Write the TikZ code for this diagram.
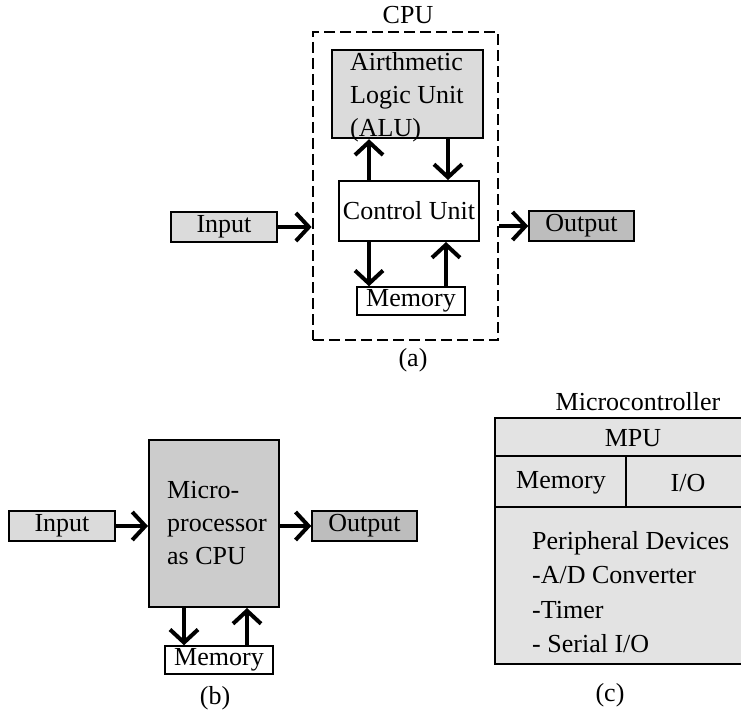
\documentclass[tikz,border=0pt]{standalone}
\usepackage{fontspec}
\setmainfont{Liberation Serif}
\usetikzlibrary{arrows.meta}
\definecolor{lightbox}{gray}{0.86}
\definecolor{midbox}{gray}{0.80}
\definecolor{darkbox}{gray}{0.74}
\definecolor{mcbox}{gray}{0.89}
\begin{document}
\begin{tikzpicture}[x=1pt,y=-1pt,
  box/.style={draw, line width=1.5pt, inner sep=0pt, font=\fontsize{26}{33}\selectfont},
  txt/.style={inner sep=0pt, font=\fontsize{26}{33}\selectfont},
  arr/.style={line width=4pt, -{Straight Barb[length=13pt,width=28pt]}}]
\useasboundingbox (0,0) rectangle (741,711);

% ---------- (a) ----------
\node[draw, line width=2.8pt, dash pattern=on 11pt off 5pt, minimum width=185pt, minimum height=308pt, inner sep=0pt] (cpu) at (405.5,186) {};
\node[txt] (cpulbl) at (408,15) {CPU};
\node[box, line width=2.5pt, fill=lightbox, minimum width=151pt, minimum height=88pt] (alu) at (407.5,94) {};
\node[txt, align=left, anchor=west] (alutxt) at (350,97) {Airthmetic\\Logic Unit\\(ALU)};
\node[box, line width=2pt, fill=white, minimum width=140pt, minimum height=60pt] (cu) at (409,211) {Control Unit};
\node[box, fill=white, minimum width=108pt, minimum height=28pt] (mem1) at (411,301) {Memory};
\node[box, fill=lightbox, minimum width=106pt, minimum height=30pt] (in1) at (224,227) {Input};
\node[box, fill=darkbox, minimum width=105pt, minimum height=30pt] (out1) at (581.5,226) {Output};
\node[txt] (la) at (413,360) {(a)};

\draw[arr] (in1.east) -- (in1.east -| cpu.west);
\draw[arr] (out1.west -| cpu.east) -- (out1.west);
\draw[arr] ([xshift=-40pt]cu.north) -- ([xshift=-40pt]cu.north |- alu.south);
\draw[arr] ([xshift=39pt]cu.north |- alu.south) -- ([xshift=39pt]cu.north);
\draw[arr] ([xshift=-40pt]cu.south) -- ([xshift=-40pt]cu.south |- mem1.north);
\draw[arr] ([xshift=37pt]cu.south |- mem1.north) -- ([xshift=37pt]cu.south);

% ---------- (b) ----------
\node[box, line width=2pt, fill=midbox, minimum width=130pt, minimum height=167pt] (micro) at (214,523.5) {};
\node[txt, align=left, anchor=west] (microtxt) at (167,523) {Micro-\\processor\\as CPU};
\node[box, fill=lightbox, minimum width=106pt, minimum height=30pt] (in2) at (62,526) {Input};
\node[box, fill=darkbox, minimum width=105pt, minimum height=30pt] (out2) at (364.5,526) {Output};
\node[box, fill=white, minimum width=108pt, minimum height=28pt] (mem2) at (219,660) {Memory};
\node[txt] (lb) at (215,698) {(b)};

\draw[arr] (in2.east) -- (in2.east -| micro.west);
\draw[arr] (micro.east |- out2.west) -- (out2.west);
\draw[arr] ([xshift=-30pt]micro.south) -- ([xshift=-30pt]micro.south |- mem2.north);
\draw[arr] ([xshift=33pt]micro.south |- mem2.north) -- ([xshift=33pt]micro.south);

% ---------- (c) ----------
\fill[mcbox] (495,418) rectangle (741,664);
\draw[line width=2pt] (741,418) -- (495,418) -- (495,664) -- (741,664);
\draw[line width=2pt] (495,456) -- (741,456);
\draw[line width=2pt] (495,507) -- (741,507);
\draw[line width=2pt] (626,456) -- (626,507);
\node[txt] (mclbl) at (638,402) {Microcontroller};
\node[txt] (mpu) at (633,438) {MPU};
\node[txt] (mcmem) at (561,483) {Memory};
\node[txt] (mcio) at (688,483) {I/O};
\node[txt, align=left, anchor=west, font=\fontsize{26}{34.5}\selectfont] (periph) at (532,592) {Peripheral Devices\\-A/D Converter\\-Timer\\- Serial I/O};
\node[txt] (lc) at (610,695) {(c)};
\end{tikzpicture}
\end{document}
